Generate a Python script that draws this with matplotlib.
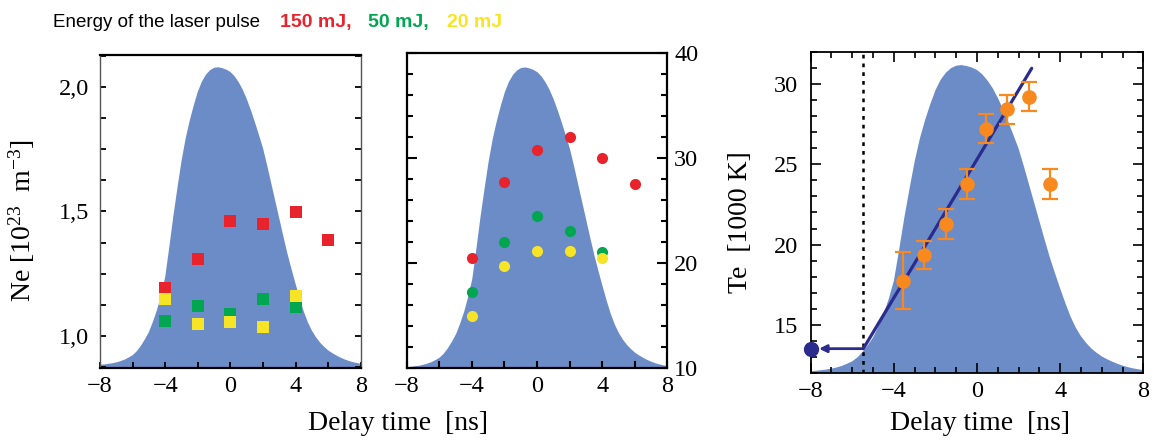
import matplotlib.pyplot as plt
from matplotlib.ticker import MultipleLocator

plt.rcParams['font.family'] = 'Liberation Serif'
plt.rcParams['mathtext.fontset'] = 'custom'
plt.rcParams['mathtext.rm'] = 'Liberation Serif'
plt.rcParams['mathtext.default'] = 'regular'

# laser pulse shape (normalised), every 0.25 ns
pulse_t = [-8 + 0.25 * i for i in range(65)]
pulse_level = [0.000, 0.001, 0.003, 0.005, 0.008, 0.012, 0.017, 0.024,   # -8 .. -6.25
               0.032, 0.045, 0.063, 0.085, 0.110, 0.145, 0.185, 0.235,   # -6 .. -4.25
               0.295, 0.395, 0.500, 0.595, 0.685, 0.760, 0.820, 0.872,   # -4 .. -2.25
               0.918, 0.952, 0.975, 0.990, 0.998, 1.000, 0.997, 0.992,   # -2 .. -0.25
               0.984, 0.970, 0.950, 0.925, 0.893, 0.856, 0.815, 0.772,   # 0 .. 1.75
               0.727, 0.670, 0.610, 0.550, 0.490, 0.430, 0.372, 0.320,   # 2 .. 3.75
               0.270, 0.222, 0.178, 0.142, 0.114, 0.092, 0.074, 0.060,   # 4 .. 5.75
               0.048, 0.039, 0.031, 0.024, 0.018, 0.013, 0.009, 0.006,   # 6 .. 7.75
               0.003]

# electron density, 10^23 m^-3
ne_t150 = [-4, -2, 0, 2, 4, 6]
ne_150 = [1.192, 1.309, 1.461, 1.448, 1.499, 1.387]
ne_t = [-4, -2, 0, 2, 4]
ne_50 = [1.06, 1.122, 1.089, 1.148, 1.118]
ne_20 = [1.149, 1.047, 1.058, 1.038, 1.161]

# middle panel
mid_t150 = [-4, -2, 0, 2, 4, 6]
mid_150 = [20.5, 27.7, 30.8, 32.0, 30.0, 27.5]
mid_t = [-4, -2, 0, 2, 4]
mid_50 = [17.2, 22.0, 24.5, 23.0, 21.0]
mid_20 = [14.9, 19.7, 21.1, 21.1, 20.5]

# electron temperature, 1000 K
te_t = [-3.54, -2.55, -1.49, -0.47, 0.42, 1.46, 2.52, 3.51]
te = [17.75, 19.35, 21.3, 23.8, 27.24, 28.43, 29.23, 23.8]
te_err = [1.8, 0.9, 0.93, 0.93, 0.92, 0.9, 0.9, 0.93]
fit_t = [-5.47, 2.63]
fit_te = [13.5, 31.0]

fill_col = '#6C8CC8'
red = '#E8232B'
green = '#00A650'
yellow = '#F7E525'
orange = '#F7891F'
navy = '#2B2B8E'

fig = plt.figure(figsize=(11.57, 4.43), dpi=100)
ax1 = fig.add_axes([0.0864, 0.1693, 0.2256, 0.7065])
ax2 = fig.add_axes([0.3515, 0.170, 0.2252, 0.7097])
ax3 = fig.add_axes([0.7007, 0.1587, 0.2875, 0.7233])


def pulse(base, peak):
    return [base + v * (peak - base) for v in pulse_level]


# --- left: Ne
ax1.fill_between(pulse_t, 0, pulse(0.885, 2.078), color=fill_col, lw=0)
ax1.plot(ne_t150, ne_150, 's', color=red, ms=8, mew=0)
ax1.plot(ne_t, ne_50, 's', color=green, ms=8, mew=0)
ax1.plot(ne_t, ne_20, 's', color=yellow, ms=8, mew=0)
ax1.set_xlim(-8, 8)
ax1.set_ylim(0.872, 2.127)
ax1.set_xticks([-8, -4, 0, 4, 8])
ax1.xaxis.set_minor_locator(MultipleLocator(2))
ax1.set_yticks([1.0, 1.5, 2.0])
ax1.set_yticklabels(['1,0', '1,5', '2,0'])
ax1.yaxis.set_minor_locator(MultipleLocator(0.125))
ax1.tick_params(which='both', direction='in', left=True, right=True, top=False,
                length=4, width=1.3, labelsize=17.5)
ax1.tick_params(axis='y', pad=8)
ax1.tick_params(axis='x', pad=6)
ax1.set_ylabel(r'Ne [10$^{23}$  m$^{-3}$]', fontsize=20)
ax1.yaxis.set_label_coords(-0.24, 0.47)
for s in ['left', 'right']:
    ax1.spines[s].set_color('#555555')
    ax1.spines[s].set_linewidth(1.0)
for s in ['top', 'bottom']:
    ax1.spines[s].set_linewidth(1.6)

# --- middle
ax2.fill_between(pulse_t, 0, pulse(10.1, 38.7), color=fill_col, lw=0)
ax2.plot(mid_t150, mid_150, 'o', color=red, ms=8, mew=0)
ax2.plot(mid_t, mid_50, 'o', color=green, ms=8, mew=0)
ax2.plot(mid_t, mid_20, 'o', color=yellow, ms=8, mew=0)
ax2.set_xlim(-8, 8)
ax2.set_ylim(10, 40)
ax2.set_xticks([-8, -4, 0, 4, 8])
ax2.xaxis.set_minor_locator(MultipleLocator(2))
ax2.set_yticks([10, 20, 30, 40])
ax2.yaxis.set_minor_locator(MultipleLocator(2))
ax2.tick_params(which='both', direction='in', left=True, right=True, top=False,
                labelleft=False, labelright=True, width=1.5, labelsize=17.5)
ax2.tick_params(axis='y', which='major', length=7, pad=5)
ax2.tick_params(axis='y', which='minor', length=4)
ax2.tick_params(axis='x', which='both', length=5, pad=6)
for s in ax2.spines.values():
    s.set_linewidth(1.6)

# --- right: Te
ax3.fill_between(pulse_t, 0, pulse(12.1, 31.2), color=fill_col, lw=0)
ax3.axvline(-5.5, color='black', lw=1.8, ls=(0, (1.5, 2)))
ax3.plot(fit_t, fit_te, color=navy, lw=2.3, solid_capstyle='round')
ax3.annotate('', xy=(-7.6, fit_te[0]), xytext=(fit_t[0], fit_te[0]),
             arrowprops=dict(arrowstyle='-|>', color=navy, lw=2.0,
                             mutation_scale=11, shrinkA=0, shrinkB=0))
ax3.plot([-8], [fit_te[0]], 'o', color=navy, ms=10, clip_on=False, zorder=5)
ax3.errorbar(te_t, te, yerr=te_err, fmt='o', color=orange, ms=9.5,
             elinewidth=1.6, capsize=6, capthick=1.6)
ax3.set_xlim(-8, 8)
ax3.set_ylim(12, 32)
ax3.set_xticks([-8, -4, 0, 4, 8])
ax3.xaxis.set_minor_locator(MultipleLocator(1))
ax3.set_yticks([15, 20, 25, 30])
ax3.yaxis.set_minor_locator(MultipleLocator(1))
ax3.tick_params(which='both', direction='in', left=True, right=True, top=True,
                width=1.2, labelsize=17.5)
ax3.tick_params(which='major', length=7)
ax3.tick_params(which='minor', length=4)
ax3.tick_params(axis='y', pad=9)
ax3.tick_params(axis='x', pad=6)
ax3.set_ylabel('Te  [1000 K]', fontsize=20)
ax3.yaxis.set_label_coords(-0.173, 0.47)
for s in ax3.spines.values():
    s.set_linewidth(1.3)

# axis titles and header
fig.text(398 / 1157, 1 - 430 / 443, 'Delay time  [ns]', ha='center', va='baseline', fontsize=20)
fig.text(980 / 1157, 1 - 430 / 443, 'Delay time  [ns]', ha='center', va='baseline', fontsize=20)

y_head = 1 - 27 / 443
fig.text(53 / 1157, y_head, 'Energy of the laser pulse', family='Liberation Sans',
         fontsize=13.5, va='baseline')
fig.text(280 / 1157, y_head, '150 mJ,', family='Liberation Sans', fontsize=14,
         weight='bold', color=red, va='baseline')
fig.text(368 / 1157, y_head, '50 mJ,', family='Liberation Sans', fontsize=14,
         weight='bold', color=green, va='baseline')
fig.text(447 / 1157, y_head, '20 mJ', family='Liberation Sans', fontsize=14,
         weight='bold', color=yellow, va='baseline')

fig.savefig('out.png', dpi=100)
